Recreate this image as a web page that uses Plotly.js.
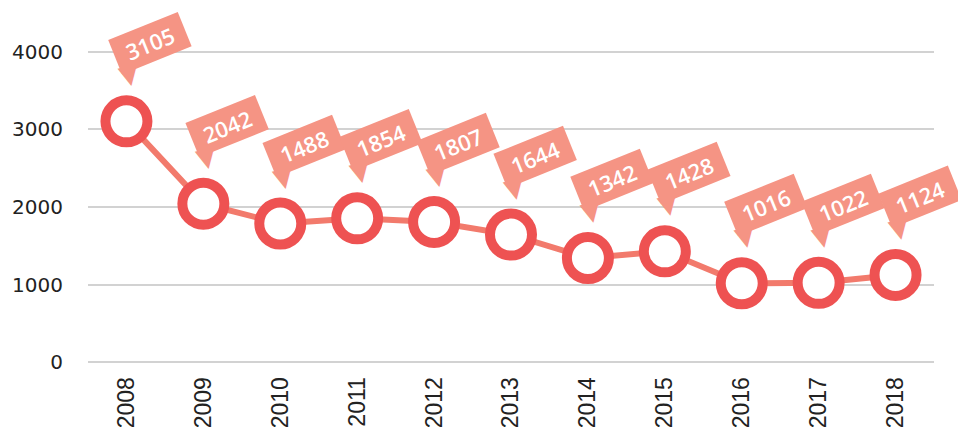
<!DOCTYPE html>
<html>
<head>
<meta charset="utf-8">
<script src="https://cdn.plot.ly/plotly-3.0.1.min.js"></script>
<style>html,body{margin:0;padding:0;background:#fff;}#chart{width:958px;height:439px;}</style>
</head>
<body>
<div id="chart"></div>
<script>
const years = ['2008','2009','2010','2011','2012','2013','2014','2015','2016','2017','2018'];
const values = [3105, 2042, 1787, 1854, 1807, 1644, 1342, 1428, 1016, 1022, 1124];
const labels = ['3105','2042','1488','1854','1807','1644','1342','1428','1016','1022','1124'];
const yTicks = [0, 1000, 2000, 3000, 4000];

const ringColor = 'rgb(238,82,82)';
const lineColor = 'rgb(242,122,108)';
const boxColor = 'rgb(245,148,132)';

const annotations = [];
years.forEach(function (yr, i) {
  annotations.push({
    x: i, y: values[i], xref: 'x', yref: 'y',
    text: labels[i], showarrow: false,
    textangle: -22, xshift: 24, yshift: 78,
    bgcolor: boxColor, borderpad: 5, width: 64, height: 26,
    font: {family: 'Open Sans, DejaVu Sans, sans-serif', size: 22, color: '#ffffff', weight: 600}
  });
  annotations.push({
    x: i, y: values[i], xref: 'x', yref: 'y',
    text: '▼', showarrow: false,
    textangle: -12, xshift: 3, yshift: 47,
    font: {family: 'DejaVu Sans, sans-serif', size: 26, color: boxColor}
  });
});

const trace = {
  x: years, y: values, type: 'scatter', mode: 'lines+markers',
  line: {color: lineColor, width: 6},
  marker: {symbol: 'circle', size: 42, color: '#ffffff', line: {color: ringColor, width: 10}},
  cliponaxis: false
};

const layout = {
  width: 958, height: 439,
  margin: {l: 88, r: 24, t: 50, b: 75},
  paper_bgcolor: '#ffffff', plot_bgcolor: '#ffffff',
  showlegend: false,
  xaxis: {
    type: 'category', range: [-0.5, 10.5], showgrid: false, zeroline: false, showline: false,
    tickangle: -90, ticks: 'outside', ticklen: 3, tickcolor: 'rgba(0,0,0,0)',
    tickfont: {family: 'Liberation Sans, Arial, sans-serif', size: 23, color: '#222'}
  },
  yaxis: {
    range: [-25, 4025], tickvals: yTicks, ticktext: yTicks.map(String),
    showgrid: true, gridcolor: '#d2d2d2', gridwidth: 1.5, zeroline: false, showline: false,
    ticks: 'outside', ticklen: 20, tickcolor: 'rgba(0,0,0,0)',
    tickfont: {family: 'DejaVu Sans, sans-serif', size: 20, color: '#222'}
  },
  annotations: annotations
};

Plotly.newPlot('chart', [trace], layout, {displayModeBar: false});
</script>
</body>
</html>
